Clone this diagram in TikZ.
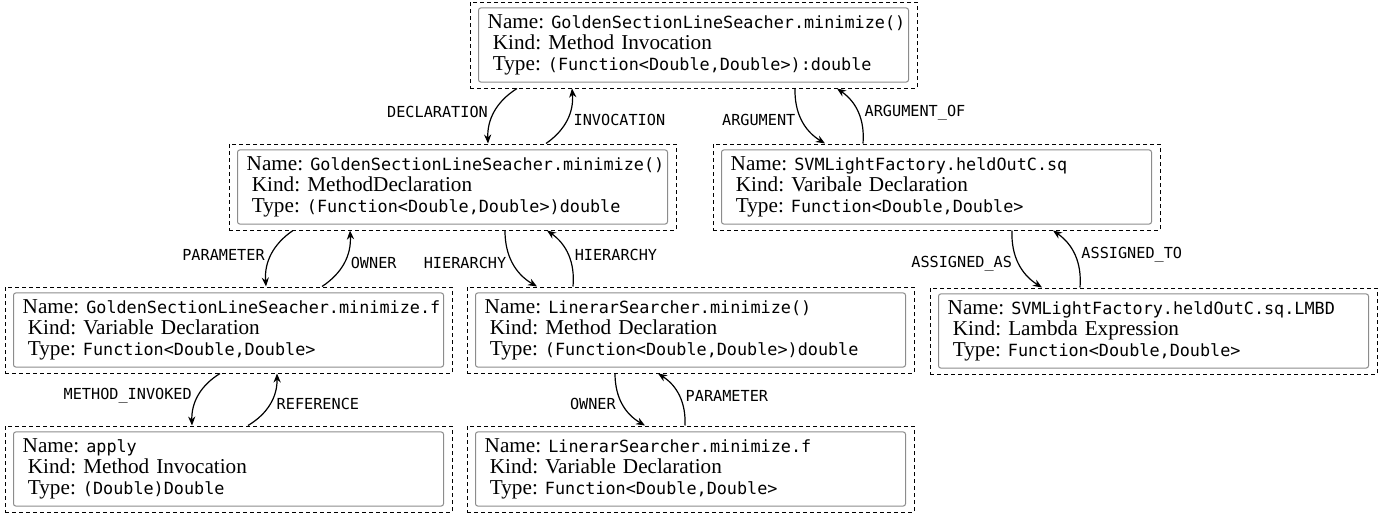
\documentclass[tikz,border=0pt]{standalone}
\usepackage{fontspec}
\setmainfont{Liberation Serif}
\setmonofont{DejaVu Sans Mono}
\usetikzlibrary{arrows.meta}
\frenchspacing
\newcommand{\mt}[1]{{\fontsize{8.4}{10}\ttfamily #1}}
\newcommand{\ind}{\hspace*{2.6pt}}
\tikzset{
  outerbox/.style={draw, dash pattern=on 2pt off 1.5pt, line width=0.5pt,
    minimum width=223.5pt, minimum height=43pt, inner sep=0pt},
  innerbox/.style={draw=black!45, rounded corners=1.2pt, line width=0.5pt,
    minimum width=215pt, minimum height=36.5pt, text width=211pt, inner xsep=2pt,
    align=left, font=\fontsize{10.6}{10.6}\selectfont\frenchspacing},
  rel/.style={-{Stealth[length=4.5pt,width=3.6pt]}, line width=0.6pt},
  lbl/.style={font=\fontsize{7.6}{9}\ttfamily, inner sep=3pt}
}
\begin{document}
\begin{tikzpicture}[x=0.5pt, y=-0.5pt]
\useasboundingbox (0,0) rectangle (1383,514);
% top
\node[outerbox] (T) at (693.5,45) {};
\node[innerbox] (Ti) at (T.center) {\ind Name:~\mt{GoldenSectionLineSeacher.minimize()}\\ \ind\ind Kind: Method Invocation\\ \ind\ind Type:~\mt{(Function<Double,Double>):double}};
% row 2
\node[outerbox] (ML) at (452.5,187) {};
\node[innerbox] (MLi) at (ML.center) {\ind Name:~\mt{GoldenSectionLineSeacher.minimize()}\\ \ind\ind Kind: MethodDeclaration\\ \ind\ind Type:~\mt{(Function<Double,Double>)double}};
\node[outerbox] (MR) at (936.5,187) {};
\node[innerbox] (MRi) at (MR.center) {\ind Name:~\mt{SVMLightFactory.heldOutC.sq}\\ \ind\ind Kind: Varibale Declaration\\ \ind\ind Type:~\mt{Function<Double,Double>}};
% row 3
\node[outerbox] (A) at (228.5,330) {};
\node[innerbox] (Ai) at (A.center) {\ind Name:~\mt{GoldenSectionLineSeacher.minimize.f}\\ \ind\ind Kind: Variable Declaration\\ \ind\ind Type:~\mt{Function<Double,Double>}};
\node[outerbox] (B) at (690.5,330) {};
\node[innerbox] (Bi) at (B.center) {\ind Name:~\mt{LinerarSearcher.minimize()}\\ \ind\ind Kind: Method Declaration\\ \ind\ind Type:~\mt{(Function<Double,Double>)double}};
\node[outerbox] (C) at (1153.5,331) {};
\node[innerbox] (Ci) at (C.center) {\ind Name:~\mt{SVMLightFactory.heldOutC.sq.LMBD}\\ \ind\ind Kind: Lambda Expression\\ \ind\ind Type:~\mt{Function<Double,Double>}};
% row 4
\node[outerbox] (D) at (228.5,469) {};
\node[innerbox] (Di) at (D.center) {\ind Name:~\mt{apply}\\ \ind\ind Kind: Method Invocation\\ \ind\ind Type:~\mt{(Double)Double}};
\node[outerbox] (E) at (690.5,469) {};
\node[innerbox] (Ei) at (E.center) {\ind Name:~\mt{LinerarSearcher.minimize.f}\\ \ind\ind Kind: Variable Declaration\\ \ind\ind Type:~\mt{Function<Double,Double>}};
% edges T <-> ML
\draw[rel] ([xshift=-88.25pt]T.south) to[bend right=30] node[lbl,left]{DECLARATION} ([xshift=17.75pt]ML.north);
\draw[rel] ([xshift=46.75pt]ML.north) to[bend right=30] node[lbl,right]{INVOCATION} ([xshift=-60.75pt]T.south);
% T <-> MR
\draw[rel] ([xshift=50.75pt]T.south) to[bend right=30] node[lbl,left]{ARGUMENT} ([xshift=-55.75pt]MR.north);
\draw[rel] ([xshift=-36.75pt]MR.north) to[bend right=30] node[lbl,right]{ARGUMENT\_OF} ([xshift=71.75pt]T.south);
% ML <-> A
\draw[rel] ([xshift=-79.75pt]ML.south) to[bend right=30] node[lbl,left]{PARAMETER} ([xshift=18.75pt]A.north);
\draw[rel] ([xshift=46.75pt]A.north) to[bend right=30] node[lbl,right]{OWNER} ([xshift=-51.25pt]ML.south);
% ML <-> B
\draw[rel] ([xshift=26.25pt]ML.south) to[bend right=30] node[lbl,left]{HIERARCHY} ([xshift=-76.75pt]B.north);
\draw[rel] ([xshift=-58.75pt]B.north) to[bend right=30] node[lbl,right]{HIERARCHY} ([xshift=47.25pt]ML.south);
% MR <-> C
\draw[rel] ([xshift=37.75pt]MR.south) to[bend right=30] node[lbl,left]{ASSIGNED\_AS} ([xshift=-55.75pt]C.north);
\draw[rel] ([xshift=-36.75pt]C.north) to[bend right=30] node[lbl,right]{ASSIGNED\_TO} ([xshift=58.25pt]MR.south);
% A <-> D
\draw[rel] ([xshift=-4.25pt]A.south) to[bend right=30] node[lbl,left]{METHOD\_INVOKED} ([xshift=-18.25pt]D.north);
\draw[rel] ([xshift=9.75pt]D.north) to[bend right=30] node[lbl,right]{REFERENCE} ([xshift=24.25pt]A.south);
% B <-> E
\draw[rel] ([xshift=-37.75pt]B.south) to[bend right=30] node[lbl,left]{OWNER} ([xshift=-22.75pt]E.north);
\draw[rel] ([xshift=-2.75pt]E.north) to[bend right=30] node[lbl,right]{PARAMETER} ([xshift=-16.25pt]B.south);
\end{tikzpicture}
\end{document}
